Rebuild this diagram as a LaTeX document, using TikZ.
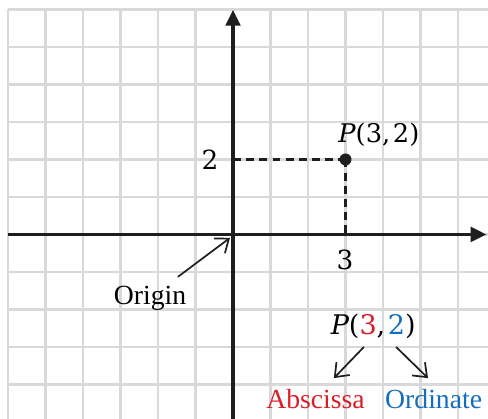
\documentclass[tikz,border=0pt]{standalone}
\usepackage{fontspec}
\setmainfont{Liberation Serif}
\newfontfamily\numfont{DejaVu Serif}
\usetikzlibrary{arrows.meta}
\definecolor{gridgray}{RGB}{217,217,217}
\definecolor{axisblack}{RGB}{30,30,30}
\definecolor{absred}{RGB}{218,30,40}
\definecolor{ordblue}{RGB}{20,110,190}
\tikzset{
  gridline/.style={draw=gridgray, line width=1.9pt},
  axisline/.style={draw=axisblack, line width=2.6pt, -{Triangle[length=12pt,width=11pt]}},
  guide/.style={draw=axisblack, line width=2pt, dash pattern=on 6pt off 4pt},
  pointer/.style={draw=axisblack, line width=1.3pt, -{Straight Barb[length=9pt,width=14pt,line width=1.3pt]}},
  numlab/.style={font=\numfont\fontsize{20}{24}\selectfont, inner sep=0pt},
  wordlab/.style={font=\fontsize{21}{25}\selectfont, inner sep=0pt}
}
\begin{document}
\begin{tikzpicture}
\useasboundingbox (-6.213,-4.92) rectangle (6.8,6.253);
% grid
\foreach \x in {-6,...,6} \draw[gridline] (\x,-4.95) -- (\x,6);
\foreach \y in {-4,...,6} \draw[gridline] (-6,\y) -- (6.85,\y);
% axes
\coordinate (xstart) at (-6,0);
\coordinate (xend) at (6.76,0);
\coordinate (ystart) at (0,-4.95);
\coordinate (yend) at (0,5.99);
\draw[axisline] (xstart) -- (xend);
\draw[axisline] (ystart) -- (yend);
% point
\coordinate (P) at (3,2);
\coordinate (Py) at (0,2);
\coordinate (Px) at (3,0);
\draw[guide] (Py) -- (P);
\draw[guide] (P) -- (Px);
\node[circle, fill=axisblack, minimum size=0.32cm, inner sep=0pt] (dot) at (P) {};
\node[numlab] (lab2) at (-0.61,1.99) {2};
\node[numlab] (lab3) at (2.99,-0.68) {3};
\node[numlab, font=\numfont\fontsize{19.5}{24}\selectfont] (Plab) at (3.89,2.65) {\itshape P\upshape(3,\kern2pt2)};
% origin
\node[wordlab] (origin) at (-2.21,-1.69) {Origin};
\coordinate (ostart) at (-1.47,-1.13);
\coordinate (otip) at (-0.08,-0.09);
\draw[pointer] (ostart) -- (otip);
% lower
\node[numlab, font=\numfont\fontsize{20.5}{24}\selectfont] (P2) at (3.74,-2.46) {\itshape P\upshape(\textcolor{absred}{3},\kern2pt\textcolor{ordblue}{2})};
\node[wordlab, text=absred, anchor=base] (absc) at (2.2,-4.63) {Abscissa};
\node[wordlab, text=ordblue, anchor=base] (ordi) at (5.35,-4.63) {Ordinate};
\coordinate (a1) at (3.49,-3.0);
\coordinate (a2) at (2.69,-3.83);
\coordinate (b1) at (4.35,-3.0);
\coordinate (b2) at (5.2,-3.83);
\draw[pointer] (a1) -- (a2);
\draw[pointer] (b1) -- (b2);
\end{tikzpicture}
\end{document}
